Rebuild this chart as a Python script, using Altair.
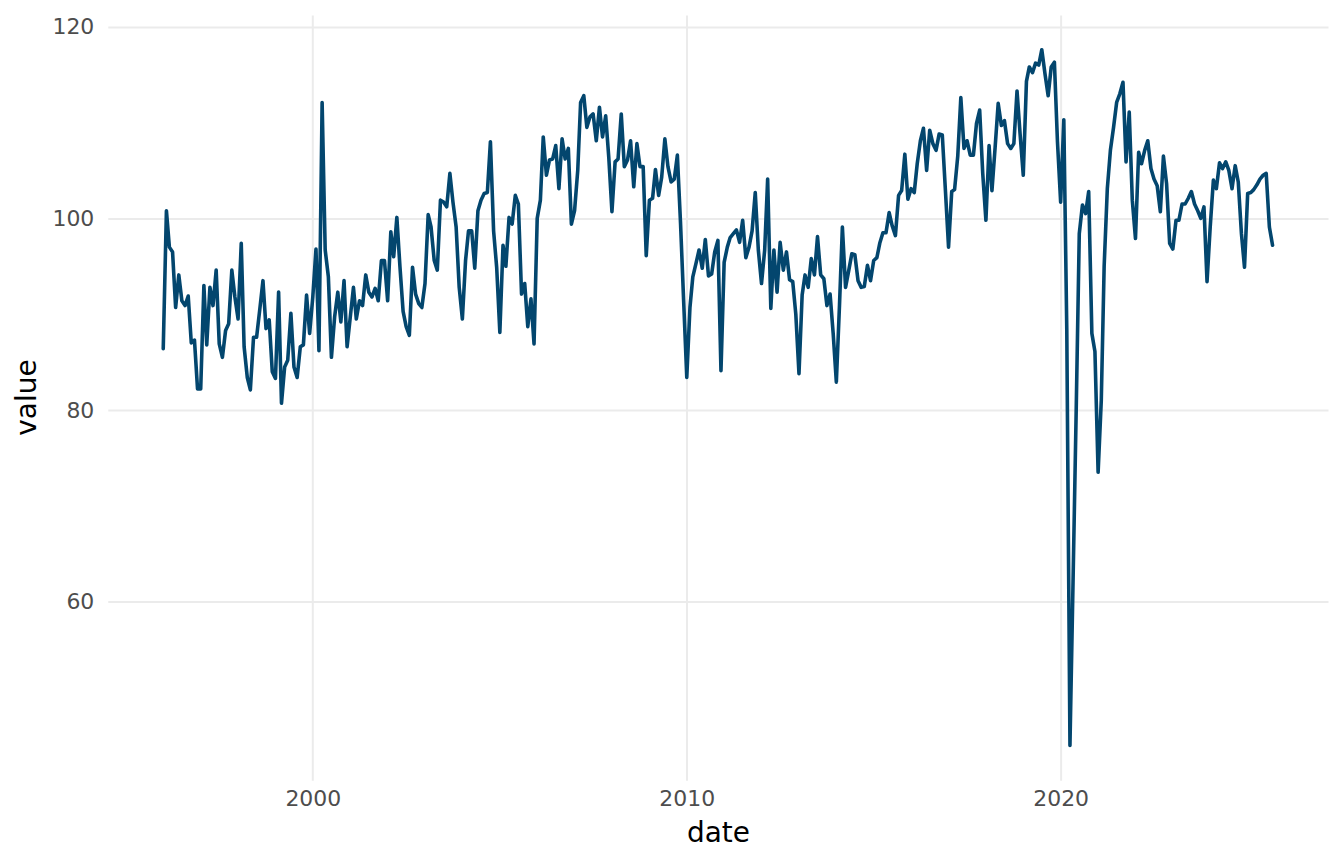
import altair as alt
import pandas as pd

# Monthly series, starting January 1996
start_month = "1996-01-01"
values = [
    86.4, 100.8, 97.0, 96.5, 90.7, 94.1, 91.4, 90.9, 91.9, 87.0, 87.3, 82.2,
    82.2, 93.0, 86.8, 92.8, 90.9, 94.6, 86.9, 85.5, 88.3, 89.0, 94.6, 91.8,
    89.5, 97.4, 86.6, 83.4, 82.1, 87.6, 87.6, 90.5, 93.5, 88.5, 89.4, 84.0,
    83.3, 92.3, 80.7, 84.5, 85.2, 90.1, 84.5, 83.4, 86.6, 86.8, 92.0, 88.0,
    91.8, 96.8, 86.2, 112.1, 96.7, 93.9, 85.5, 89.7, 92.3, 89.2, 93.5, 86.6,
    89.7, 92.8, 89.5, 91.4, 90.9, 94.1, 92.3, 91.8, 92.7, 91.4, 95.6, 95.6,
    91.4, 98.6, 96.0, 100.1, 95.0, 90.3, 88.7, 87.8, 94.9, 92.1, 91.1, 90.7,
    93.2, 100.4, 99.1, 95.6, 94.6, 101.9, 101.7, 101.2, 104.7, 101.7, 99.1, 92.8,
    89.5, 95.6, 98.7, 98.7, 94.8, 100.8, 101.9, 102.6, 102.7, 108.0, 98.7, 94.9,
    88.1, 97.2, 95.0, 100.1, 99.4, 102.4, 101.5, 92.1, 93.2, 88.7, 91.6, 86.9,
    100.0, 101.9, 108.5, 104.5, 106.1, 106.2, 107.6, 103.1, 108.3, 106.2, 107.3, 99.4,
    100.8, 105.0, 112.1, 112.8, 109.5, 110.6, 110.9, 108.1, 111.6, 108.5, 110.7, 106.4,
    100.7, 105.9, 106.2, 110.9, 105.4, 106.1, 108.1, 103.3, 107.8, 105.4, 105.4, 96.1,
    101.9, 102.1, 105.1, 102.4, 104.3, 108.3, 105.4, 103.8, 104.1, 106.6, 99.5, 91.5,
    83.4, 90.7, 93.9, 95.3, 96.7, 94.8, 97.8, 94.0, 94.2, 96.5, 97.7, 84.1,
    95.4, 97.0, 98.0, 98.4, 98.8, 97.5, 99.8, 95.9, 97.0, 98.7, 102.7, 96.7,
    93.2, 96.7, 104.1, 90.6, 96.7, 92.3, 97.5, 94.6, 96.5, 93.6, 93.4, 90.0,
    83.8, 92.0, 94.1, 92.8, 95.8, 94.1, 98.1, 94.1, 93.7, 90.9, 92.1, 88.0,
    82.9, 91.0, 99.1, 92.8, 94.5, 96.3, 96.2, 93.5, 92.8, 92.9, 95.1, 93.5,
    95.6, 95.9, 97.4, 98.5, 98.5, 100.6, 99.2, 98.2, 102.4, 102.9, 106.7, 102.0,
    103.1, 102.7, 105.7, 108.1, 109.4, 105.0, 109.2, 107.8, 107.1, 108.8, 108.7, 103.0,
    97.0, 102.8, 103.0, 106.5, 112.6, 107.3, 108.1, 106.6, 106.6, 109.9, 111.3, 104.7,
    99.8, 107.6, 102.9, 107.4, 112.0, 109.7, 110.2, 107.8, 107.3, 107.8, 113.3, 108.8,
    104.5, 114.3, 115.8, 115.2, 116.2, 116.0, 117.6, 115.1, 112.8, 115.8, 116.3, 108.0,
    101.7, 110.3, 88.4, 45.0, 62.0, 80.0, 98.4, 101.4, 100.5, 102.8, 88.0, 86.1,
    73.5, 81.0, 95.0, 103.1, 107.1, 109.5, 112.1, 113.0, 114.2, 105.9, 111.1, 101.9,
    97.9, 106.9, 105.7, 107.1, 108.1, 105.2, 104.1, 103.4, 100.7, 106.5, 103.6, 97.4,
    96.8, 99.8, 99.8, 101.5, 101.5, 102.1, 102.8, 101.5, 100.8, 100.0, 101.2, 93.4,
    99.1, 104.0, 103.1, 105.8, 105.2, 105.9, 105.0, 103.1, 105.5, 103.8, 98.4, 94.9,
    102.6, 102.7, 103.0, 103.5, 104.1, 104.5, 104.7, 99.1, 97.2,
]
x_tick_years = [2000, 2010, 2020]
y_ticks = [60, 80, 100, 120]

dates = pd.date_range(start_month, periods=len(values), freq="MS")
df = pd.DataFrame({"date": dates, "value": values})

# ggplot-like 5% expansion of both scales
dmin, dmax = df["date"].min(), df["date"].max()
span = dmax - dmin
x_dom = [(dmin - span * 0.05).isoformat(), (dmax + span * 0.05).isoformat()]
vmin, vmax = min(values), max(values)
vr = vmax - vmin
y_dom = [vmin - 0.05 * vr, vmax + 0.05 * vr]

W, H = 1223, 767
FONT = "DejaVu Sans"

chart = (
    alt.Chart(df)
    .mark_line(color="#03466E", strokeWidth=3.6, strokeJoin="round", strokeCap="round")
    .encode(
        x=alt.X(
            "date:T",
            scale=alt.Scale(domain=x_dom, nice=False),
            axis=alt.Axis(
                values=[alt.DateTime(year=y, month=1, date=1) for y in x_tick_years],
                format="%Y",
                title="date",
                ticks=False,
                domain=False,
                labelPadding=8,
                labelFontSize=22,
                labelColor="#4D4D4D",
                labelFont=FONT,
                titleFont=FONT,
                titleFontSize=28,
                titleFontWeight="normal",
                titleColor="#000000",
                titleBaseline="middle",
                titleY=53,
                gridColor="#EBEBEB",
                gridWidth=2,
            ),
        ),
        y=alt.Y(
            "value:Q",
            scale=alt.Scale(domain=y_dom, nice=False, zero=False),
            axis=alt.Axis(
                values=y_ticks,
                title="value",
                ticks=False,
                domain=False,
                labelPadding=14,
                labelFontSize=22,
                labelColor="#4D4D4D",
                labelFont=FONT,
                titleFont=FONT,
                titleFontSize=28,
                titleFontWeight="normal",
                titleColor="#000000",
                titleAngle=-90,
                titleAlign="center",
                titleBaseline="middle",
                titleX=-80,
                titleY=383,
                gridColor="#EBEBEB",
                gridWidth=2,
            ),
        ),
    )
    .properties(
        width=W,
        height=H,
        background="white",
        autosize=alt.AutoSizeParams(type="none"),
        padding={"left": 100, "top": 6, "right": 8, "bottom": 70},
    )
    .configure_view(stroke=None)
)

chart.save("out.html", embed_options={"renderer": "svg", "actions": False})
